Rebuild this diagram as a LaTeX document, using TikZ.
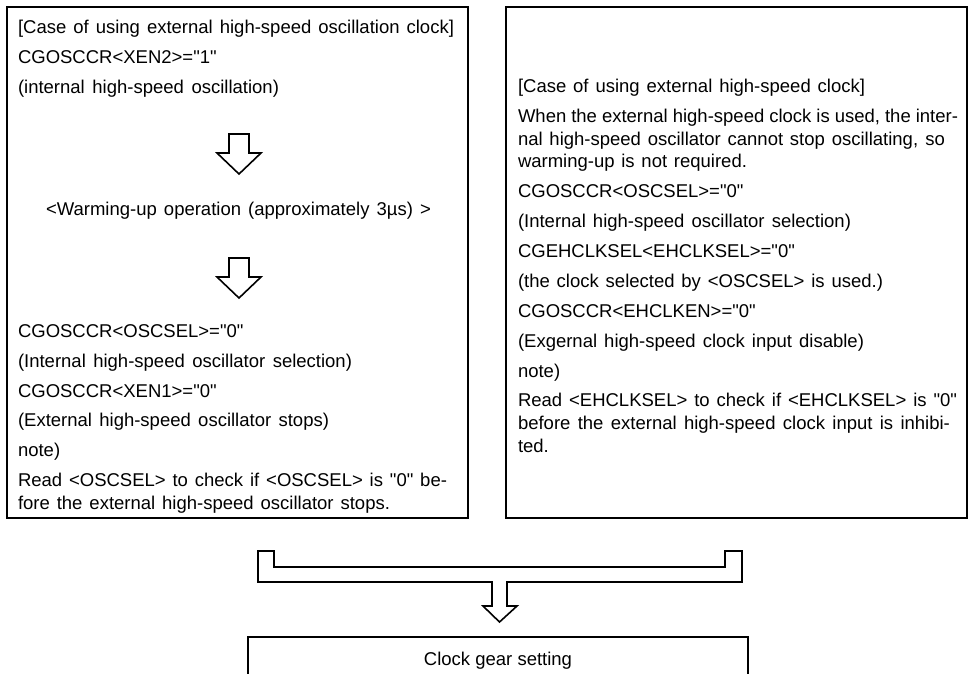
\documentclass[tikz,border=0pt]{standalone}
\usepackage{fontspec}
\setmainfont{Liberation Sans}[Ligatures=TeXOff]
\newcommand\jline[2]{\makebox[#1pt][s]{#2}}
\begin{document}
\begin{tikzpicture}[x=1pt,y=-1pt,
  every node/.style={inner sep=0pt, outer sep=0pt, font=\fontsize{18.5}{22}\selectfont},
  txt/.style={anchor=base west},
  box/.style={draw, line width=1.8pt, anchor=north west, minimum width=461pt, minimum height=511pt},
  blockarrow/.style={draw, line width=1.6pt, line join=miter, fill=white}]
\useasboundingbox (0,0) rectangle (971,673);
\clip (0,0) rectangle (971,673);
% boxes
\node[box] (L) at (7,7) {};
\node[box] (R) at (506,7) {};
% left text
\node[txt] (l1) at (18,33) {\jline{436}{[Case of using external high-speed oscillation clock]}};
\node[txt] (l2) at (18,63) {CGOSCCR<XEN2>="1"};
\node[txt] (l3) at (18,93) {\jline{261}{(internal high-speed oscillation)}};
\node[anchor=base] (warm) at (238.5,215) {\jline{385}{<Warming-up operation (approximately 3µs) >}};
\node[txt] (l4) at (18,337) {CGOSCCR<OSCSEL>="0"};
\node[txt] (l5) at (18,367) {\jline{334}{(Internal high-speed oscillator selection)}};
\node[txt] (l6) at (18,397) {CGOSCCR<XEN1>="0"};
\node[txt] (l7) at (18,426) {\jline{311}{(External high-speed oscillator stops)}};
\node[txt] (l8) at (18,456) {note)};
\node[txt] (l9) at (18,486) {\jline{429}{Read <OSCSEL> to check if <OSCSEL> is "0" be-}};
\node[txt] (l10) at (18,509) {\jline{372}{fore the external high-speed oscillator stops.}};
% right text
\node[txt] (r1) at (518,92) {\jline{347}{[Case of using external high-speed clock]}};
\node[txt] (r2) at (518,122) {\jline{440}{When the external high-speed clock is used, the inter-}};
\node[txt] (r3) at (518,145) {\jline{427}{nal high-speed oscillator cannot stop oscillating, so}};
\node[txt] (r4) at (518,167) {\jline{229}{warming-up is not required.}};
\node[txt] (r5) at (518,197) {CGOSCCR<OSCSEL>="0"};
\node[txt] (r6) at (518,227) {\jline{333}{(Internal high-speed oscillator selection)}};
\node[txt] (r7) at (518,257) {CGEHCLKSEL<EHCLKSEL>="0"};
\node[txt] (r8) at (518,287) {\jline{365}{(the clock selected by <OSCSEL> is used.)}};
\node[txt] (r9) at (518,317) {CGOSCCR<EHCLKEN>="0"};
\node[txt] (r10) at (518,347) {\jline{346}{(Exgernal high-speed clock input disable)}};
\node[txt] (r11) at (518,377) {note)};
\node[txt] (r12) at (518,406) {\jline{439}{Read <EHCLKSEL> to check if <EHCLKSEL> is "0"}};
\node[txt] (r13) at (518,429) {\jline{432}{before the external high-speed clock input is inhibi-}};
\node[txt] (r14) at (518,452) {ted.};
% bottom box
\node[draw, line width=1.8pt, anchor=north, minimum width=500pt, text height=28pt, text depth=32pt] (gear) at (498,637) {Clock gear setting};
% small block arrows
\draw[blockarrow] (229,134) -- (249,134) -- (249,153) -- (261,153) -- (239,174) -- (217,153) -- (229,153) -- cycle;
\draw[blockarrow] (229,258) -- (249,258) -- (249,277) -- (261,277) -- (239,298) -- (217,277) -- (229,277) -- cycle;
% merge arrow
\draw[blockarrow] (258,551) -- (274,551) -- (274,567) -- (725,567) -- (725,551) -- (742,551)
  -- (742,582) -- (507,582) -- (507,606) -- (517,606) -- (499.5,622) -- (483,606) -- (492,606)
  -- (492,582) -- (258,582) -- cycle;
\end{tikzpicture}
\end{document}
